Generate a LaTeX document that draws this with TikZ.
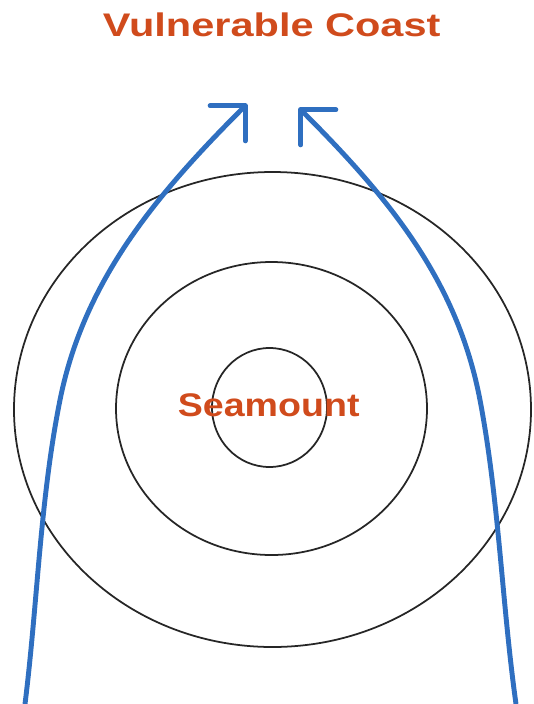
\documentclass[tikz,border=0pt]{standalone}
\usepackage{fontspec}
\setmainfont{Liberation Sans}
\usetikzlibrary{arrows.meta}
\definecolor{rust}{HTML}{D04B1C}
\definecolor{seablue}{HTML}{2F6FC0}

\begin{document}
\begin{tikzpicture}[x=0.02cm,y=-0.02cm,
			ring/.style={draw=black!85,line width=1pt},
			flow/.style={draw=seablue,line width=2.8pt,-{Straight Barb[angle=90:20pt,round]}},
			tag/.style={text=rust,font=\bfseries\fontsize{18.6pt}{22pt}\selectfont,inner sep=0pt,anchor=base}
			]
			\useasboundingbox (0,0) rectangle (534,704);
			\node[tag] (coast) at (271.7,36.5) {\scalebox{1.27}[1]{Vulnerable Coast}};
			% depth contours round the seamount
			\draw[ring] (272.5,409.5) ellipse [x radius=258.5, y radius=237.5];
			\draw[ring] (271.5,408.5) ellipse [x radius=155.5, y radius=146.5];
			\draw[ring] (269.5,407.5) ellipse [x radius=57.5, y radius=59.5];
			\node[tag] (mount) at (268.7,416.7) {\scalebox{1.15}[1]{Seamount}};
			% waves bent towards the coast
			\coordinate (lbase) at (25,704);
			\coordinate (lbend) at (60,400);
			\coordinate (ltip) at (247,104);
			\coordinate (rbase) at (516,704);
			\coordinate (rbend) at (480,400);
			\coordinate (rtip) at (299,108);
			\draw[flow] (lbase) .. controls (37.5,604) and (40,500) .. (lbend) .. controls (84,280) and (157,194) .. (ltip);
			\draw[flow] (rbase) .. controls (502,604) and (499,500) .. (rbend) .. controls (457,280) and (389,198) .. (rtip);
		\end{tikzpicture}
\end{document}
